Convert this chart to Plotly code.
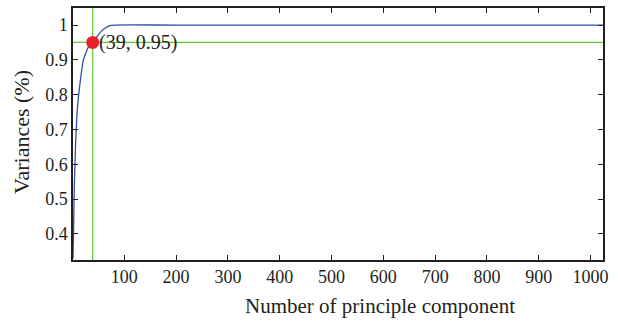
import plotly.graph_objects as go

# Cumulative variance vs number of principal components
components = [1, 2, 3, 4, 5, 6, 7, 9, 12, 16, 21, 26, 30, 35, 39, 45, 50, 55, 60, 65, 70, 75, 80, 200, 500, 1024]
variances = [0.33, 0.40, 0.50, 0.56, 0.61, 0.66, 0.69, 0.75, 0.80, 0.85, 0.90, 0.92, 0.935, 0.944, 0.95, 0.962, 0.972, 0.981, 0.988, 0.993, 0.997, 0.999, 1.0, 1.0, 1.0, 1.0]

thr_x = 39
thr_y = 0.95
point_label = "(39, 0.95)"

x_ticks = [100, 200, 300, 400, 500, 600, 700, 800, 900, 1000]
y_ticks = [0.4, 0.5, 0.6, 0.7, 0.8, 0.9, 1]
y_tick_text = ["0.4", "0.5", "0.6", "0.7", "0.8", "0.9", "1"]

x_title = "Number of principle component"
y_title = "Variances (%)"

x_range = [1, 1024]
y_range = [0.325, 1.049]

font_family = "Liberation Serif"
ink = "#231f20"

fig = go.Figure()
fig.add_trace(go.Scatter(x=components, y=variances, mode="lines",
                         line=dict(color="#2f4fa8", width=1.3, shape="spline", smoothing=0.6),
                         hoverinfo="skip"))
fig.add_trace(go.Scatter(x=[thr_x, thr_x], y=y_range, mode="lines",
                         line=dict(color="#5cc832", width=1.2)))
fig.add_trace(go.Scatter(x=x_range, y=[thr_y, thr_y], mode="lines",
                         line=dict(color="#5cc832", width=1.2)))
fig.add_trace(go.Scatter(x=[thr_x], y=[thr_y], mode="markers",
                         marker=dict(color="#e8202a", size=13)))
fig.add_annotation(x=thr_x, y=thr_y, text=point_label, showarrow=False,
                   xanchor="left", yanchor="middle", xshift=4, yshift=0,
                   font=dict(family=font_family, size=20, color=ink))
fig.add_annotation(xref="paper", yref="paper", x=0.5, y=0, text=x_title, showarrow=False,
                   xanchor="center", yanchor="middle", xshift=42, yshift=-46,
                   font=dict(family=font_family, size=21, color=ink))
fig.add_annotation(xref="paper", yref="paper", x=0, y=0.5, text=y_title, showarrow=False,
                   xanchor="center", yanchor="middle", xshift=-52, yshift=2, textangle=-90,
                   font=dict(family=font_family, size=22, color=ink))

fig.update_layout(
    width=618, height=323,
    margin=dict(l=73, r=15, t=8, b=63),
    plot_bgcolor="white", paper_bgcolor="white",
    showlegend=False,
    font=dict(family=font_family, size=18, color=ink),
)
fig.update_xaxes(range=x_range, tickvals=x_ticks, ticks="inside", ticklen=5,
                 tickcolor=ink, showline=True, linecolor=ink, linewidth=1.5,
                 mirror="ticks", showgrid=False, zeroline=False, automargin=False)
fig.update_yaxes(range=y_range, tickvals=y_ticks, ticktext=y_tick_text,
                 ticks="inside", ticklen=5,
                 tickcolor=ink, showline=True, linecolor=ink, linewidth=1.5,
                 mirror="ticks", showgrid=False, zeroline=False, automargin=False)

fig.write_html("out.html", config={"displayModeBar": False},
               post_script="document.body.style.margin='0';")
